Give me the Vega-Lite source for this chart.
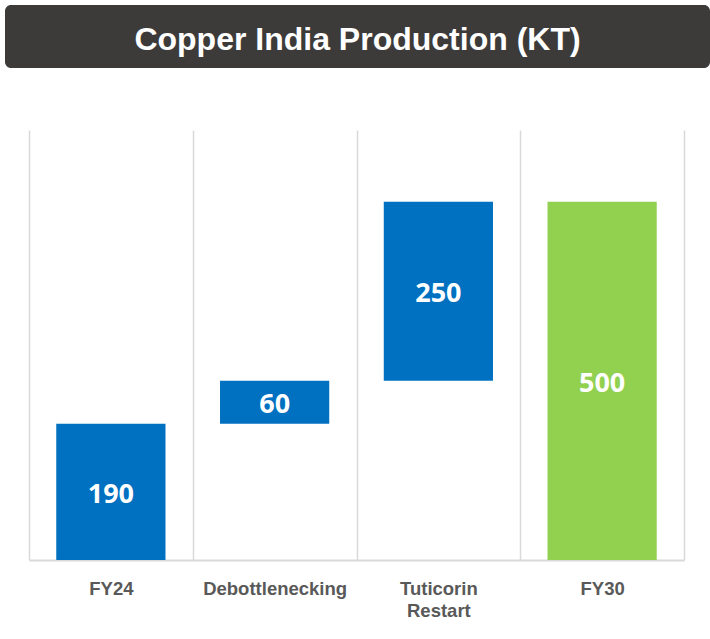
{
  "$schema": "https://vega.github.io/schema/vega-lite/v6.json",
  "background": "#ffffff",
  "padding": {"left": 5, "top": 5, "right": 0, "bottom": 0},
  "config": {
    "concat": {"spacing": 62},
    "view": {"stroke": null}
  },
  "vconcat": [
    {
      "width": 705,
      "height": 63,
      "view": {"fill": "#3c3b39", "stroke": null, "cornerRadius": 6},
      "data": {"values": [{"title": "Copper India Production (KT)"}]},
      "mark": {"type": "text", "font": "Liberation Sans", "fontWeight": "bold", "fontSize": 32, "color": "#ffffff", "align": "center", "baseline": "middle", "dy": 3},
      "encoding": {"text": {"field": "title"}}
    },
    {
      "width": 705,
      "height": 430,
      "data": {"values": [
        {"category": "FY24", "start": 0, "end": 190, "value": 190, "kind": "total"},
        {"category": "Debottlenecking", "start": 190, "end": 250, "value": 60, "kind": "step"},
        {"category": "Tuticorin Restart", "start": 250, "end": 500, "value": 250, "kind": "step"},
        {"category": "FY30", "start": 0, "end": 500, "value": 500, "kind": "final"}
      ]},
      "encoding": {
        "x": {
          "field": "category", "type": "nominal", "sort": null,
          "scale": {"paddingInner": 0, "paddingOuter": 0, "range": [24, 679]},
          "axis": {
            "title": null, "ticks": false, "grid": true, "tickBand": "extent",
            "gridColor": "#d9d9d9", "gridWidth": 1.5,
            "domainColor": "#d9d9d9", "domainWidth": 2,
            "labelFont": "Liberation Sans", "labelFontWeight": "bold", "labelFontSize": 18.5,
            "labelColor": "#595959", "labelPadding": 19, "labelLineHeight": 22,
            "labelAngle": 0, "labelBaseline": "top",
            "labelExpr": "split(datum.label, ' ')"
          }
        }
      },
      "layer": [
        {
          "mark": {"type": "bar", "width": {"band": 0.667}},
          "encoding": {
            "y": {"field": "start", "type": "quantitative", "scale": {"domain": [0, 600], "nice": false}, "axis": null},
            "y2": {"field": "end"},
            "color": {"field": "kind", "type": "nominal", "scale": {"domain": ["total", "step", "final"], "range": ["#0070c0", "#0070c0", "#92d050"]}, "legend": null}
          }
        },
        {
          "transform": [{"calculate": "(datum.start + datum.end) / 2", "as": "mid"}],
          "mark": {"type": "text", "font": "Open Sans", "fontWeight": "bold", "fontSize": 27, "color": "#ffffff", "baseline": "middle", "dy": 3},
          "encoding": {
            "y": {"field": "mid", "type": "quantitative"},
            "text": {"field": "value", "type": "quantitative"}
          }
        }
      ]
    }
  ]
}
